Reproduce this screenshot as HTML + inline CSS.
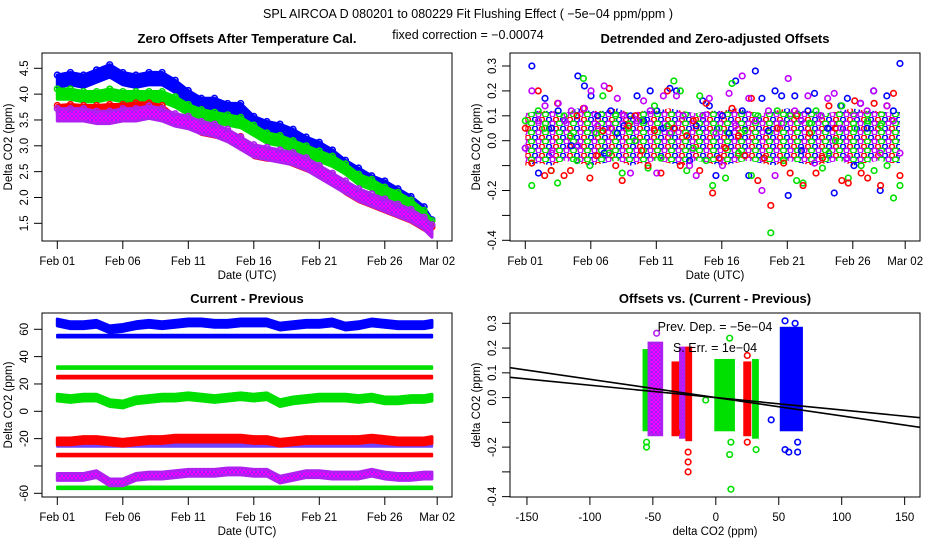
<!DOCTYPE html>
<html><head><meta charset="utf-8"><style>
body{margin:0;background:#fff}
svg{display:block;font-family:"Liberation Sans",sans-serif}
</style></head><body>
<svg id="s" width="936" height="540" viewBox="0 0 936 540">
<defs>
<pattern id="pp" width="4" height="4" patternUnits="userSpaceOnUse"><rect width="4" height="4" fill="#4a30ff"/><circle cx="2" cy="2" r="1.4" fill="none" stroke="#ff00ff" stroke-width="1.3"/></pattern>
<pattern id="mix" width="14" height="9" patternUnits="userSpaceOnUse"><rect width="14" height="9" fill="#fff"/>
<circle cx="3" cy="2.5" r="2.4" fill="none" stroke="#0000ff" stroke-width="1.5"/>
<circle cx="10" cy="2.5" r="2.4" fill="none" stroke="#ff0000" stroke-width="1.5"/>
<circle cx="6.5" cy="6.5" r="2.4" fill="none" stroke="#c000ff" stroke-width="1.5"/>
<circle cx="13" cy="6.5" r="2.4" fill="none" stroke="#00e000" stroke-width="1.5"/>
<circle cx="0" cy="6.5" r="2.4" fill="none" stroke="#00e000" stroke-width="1.5"/>
</pattern>
</defs>
<text x="468" y="18" font-size="12.5" text-anchor="middle">SPL   AIRCOA D   080201 to 080229   Fit Flushing Effect ( −5e−04 ppm/ppm )</text>
<text x="468" y="39" font-size="12.5" text-anchor="middle">fixed correction = −0.00074</text>
</svg>
<script>
// ---- data ----
const days = [0,1,2,3,4,5,6,7,8,9,10,11,12,13,14,15,16,17,18,19,20,21,22,23,24,25,26,27,28,28.6];
const dayTicks = [0,5,10,15,20,25,29];
const dayTickLabels = ["Feb 01","Feb 06","Feb 11","Feb 16","Feb 21","Feb 26","Mar 02"];
// panel 1: zero offsets (center per day) and spread
const p1Blue  = [4.25,4.3,4.25,4.35,4.45,4.3,4.25,4.3,4.3,4.15,3.95,3.8,3.8,3.7,3.7,3.45,3.35,3.3,3.2,3.05,2.95,2.8,2.6,2.45,2.3,2.2,2.05,1.9,1.7,1.45];
const p1Green = [4.0,4.0,3.95,3.95,4.0,3.95,3.95,3.95,3.95,3.85,3.7,3.6,3.55,3.5,3.45,3.3,3.15,3.1,3.0,2.9,2.8,2.7,2.55,2.35,2.25,2.1,2.0,1.85,1.65,1.45];
const p1Red   = [3.7,3.72,3.7,3.7,3.72,3.72,3.75,3.75,3.7,3.5,3.45,3.3,3.25,3.2,3.1,2.85,2.8,2.8,2.7,2.6,2.5,2.35,2.15,2.0,1.9,1.8,1.7,1.6,1.45,1.35];
const p1Purple= [3.6,3.6,3.6,3.55,3.55,3.6,3.6,3.65,3.6,3.5,3.45,3.35,3.3,3.2,3.05,2.9,2.85,2.8,2.75,2.65,2.5,2.35,2.2,2.05,1.95,1.85,1.75,1.65,1.5,1.35];
const p1Spread = [0.12,0.1,0.08,0.12];
const p1YTicks = [1.5,2.0,2.5,3.0,3.5,4.0,4.5];
// panel 2: detrended offsets
const p2Blue  = [-0.03,0.3,-0.13,0.17,0.05,0.12,0.08,-0.02,0.26,0.22,0.18,0.1,-0.05,0.12,0.03,0.06,0.1,0.18,0.08,0.2,0.12,0.05,0.21,0.2,0.1,-0.08,0.06,0.16,0.14,-0.14,0.1,0.03,0.24,0.12,-0.14,0.28,0.17,0.04,0.2,0.18,-0.22,0.18,-0.04,0.12,0.19,0.1,0.05,-0.21,0.14,0.17,-0.1,0.15,0.05,0.2,-0.2,0.18,0.12,0.31];
const p2Green = [0.08,-0.18,0.12,0.05,-0.12,-0.17,0.1,0.02,-0.08,0.25,-0.1,0.03,0.18,-0.05,0.1,-0.13,0.05,0.0,0.08,-0.11,0.14,-0.07,0.06,0.24,0.2,-0.12,-0.03,0.18,-0.08,-0.18,0.05,-0.15,0.23,-0.05,0.04,-0.14,0.1,-0.07,-0.37,0.12,-0.08,0.1,-0.16,-0.17,0.07,0.12,-0.11,-0.05,0.0,0.14,-0.15,0.05,-0.1,0.08,-0.12,0.06,-0.1,-0.23,-0.18];
const p2Red   = [0.05,-0.09,0.2,-0.14,-0.12,0.15,-0.14,-0.12,0.1,0.13,-0.15,-0.06,0.04,0.21,-0.1,-0.16,0.06,0.1,-0.04,-0.1,0.04,-0.13,0.2,0.05,-0.1,0.02,0.08,-0.12,0.15,-0.21,-0.07,-0.03,0.13,0.02,-0.06,0.17,-0.16,-0.07,-0.26,0.05,-0.09,-0.13,0.1,-0.18,0.03,-0.13,-0.07,0.14,0.05,-0.16,-0.17,0.16,-0.13,-0.15,0.15,-0.18,0.14,0.19,-0.14];
const p2Purple= [-0.03,0.2,0.08,0.14,-0.05,0.15,0.08,0.12,-0.02,0.13,0.2,0.06,0.22,0.05,0.17,0.1,-0.13,0.08,0.16,0.12,-0.13,0.18,0.03,0.18,0.1,-0.1,-0.14,0.1,0.17,0.03,-0.1,0.19,0.06,0.26,0.17,0.08,-0.2,0.12,-0.14,0.07,0.25,0.12,0.08,0.18,-0.09,0.1,0.17,0.19,0.05,-0.07,0.1,0.15,0.12,0.2,-0.05,0.14,0.08,-0.05];
const p2CoreLo = [-0.1,-0.09,-0.1,-0.08,-0.09,-0.1,-0.09,-0.08,-0.1,-0.09,-0.08,-0.09,-0.1,-0.08,-0.09,-0.1,-0.09,-0.08,-0.09,-0.1,-0.08,-0.09,-0.1,-0.09,-0.08,-0.1,-0.09,-0.08,-0.09,-0.09];
const p2CoreHi = [0.11,0.12,0.12,0.11,0.13,0.12,0.12,0.13,0.11,0.12,0.12,0.13,0.12,0.11,0.12,0.12,0.13,0.12,0.11,0.12,0.13,0.12,0.12,0.11,0.12,0.13,0.12,0.12,0.11,0.12];
const p2YTicks = [-0.4,-0.3,-0.2,-0.1,0.0,0.1,0.2,0.3];
const p2YLabels = ["-0.4","","-0.2","","0.0","0.1","0.2","0.3"];
// panel 3: current - previous
const p3BlueNoisy  = [65,63,63,64,60,61,63,64,63,64,65,65,64,64,65,65,65,62,63,64,64,65,62,63,65,64,63,63,63,64];
const p3GreenNoisy = [10,9,10,10,6,5,8,9,10,10,11,10,9,10,11,10,11,6,8,9,10,10,10,9,10,8,8,9,9,10];
const p3RedNoisy   = [-22,-22,-21,-21,-22,-23,-22,-21,-21,-20,-20,-20,-20,-20,-20,-21,-21,-23,-22,-21,-21,-21,-21,-21,-20,-21,-22,-22,-22,-21];
const p3PurpleNoisy= [-48,-48,-48,-46,-52,-52,-48,-47,-47,-46,-45,-45,-45,-44,-44,-45,-45,-50,-48,-46,-46,-47,-47,-47,-45,-47,-48,-48,-47,-47];
const p3ConstValues = [55,32,25,-25,-32,-56];
const p3ConstColors = ["#0000ff","#00e000","#ff0000","#7040ff","#ff0000","#00e000"];
const p3YTicks = [-60,-40,-20,0,20,40,60];
const p3YLabels = ["-60","","-20","0","20","40","60"];
// panel 4: offsets vs (current - previous) clusters
const p4XMin = [-57,-53,-34,-28,-23,0,23,30,52];
const p4XMax = [-54,-43,-29,-25,-20,14,27,33,68];
const p4YLo  = [-0.13,-0.15,-0.15,-0.16,-0.17,-0.13,-0.15,-0.16,-0.13];
const p4YHi  = [0.19,0.22,0.14,0.2,0.2,0.15,0.14,0.15,0.28];
const p4Colors = ["#00e000","purple","#ff0000","purple","#ff0000","#00e000","#ff0000","#00e000","#0000ff"];
const p4OutX = [-55,-55,-47,-31,-22,-22,-22,-8,11,11,12,12,25,25,32,44,55,55,58,63,65,65,64];
const p4OutY = [-0.18,-0.2,0.26,-0.14,-0.22,-0.26,-0.3,-0.01,0.24,-0.23,-0.37,-0.18,0.17,-0.18,-0.21,-0.09,0.31,-0.21,-0.22,0.3,-0.22,-0.18,0.25];
const p4OutC = ["#00e000","#00e000","purple","#ff0000","#ff0000","#ff0000","#ff0000","#00e000","#00e000","#00e000","#00e000","#00e000","#ff0000","#ff0000","#00e000","#0000ff","#0000ff","#0000ff","#0000ff","#0000ff","#0000ff","#0000ff","#0000ff"];
const p4Slopes = [-0.00074,-0.0005];
const p4XTicks = [-150,-100,-50,0,50,100,150];
const p4YTicks = p2YTicks, p4YLabels = p2YLabels;

// ---- drawing ----
const svg = document.getElementById('s');
const NS = 'http://www.w3.org/2000/svg';
function mk(tag, attrs, parent){const e=document.createElementNS(NS,tag);for(const k in attrs)e.setAttribute(k,attrs[k]);(parent||svg).appendChild(e);return e;}
function col(c){return c==='purple'?'url(#pp)':c==='mix'?'url(#mix)':c;}
function strokeCol(c){return c==='purple'?'#b020f0':c==='mix'?'none':c;}

function panel(name, L, T, R, B, xs, ys, xticks, xlabels, yticks, ylabels, title, xtitle, ytitle){
  const g = mk('g',{});
  
  
  const t = mk('text',{x:(L+R)/2,y:T-10,'font-size':13,'font-weight':'bold','text-anchor':'middle'},g);
  t.textContent = title;
  
  
  const xa = mk('g',{},g);
  
  
  mk('line',{x1:xs(xticks[0]),x2:xs(xticks[xticks.length-1]),y1:B,y2:B,stroke:'#000'},xa);
  xticks.forEach((v,i)=>{
    mk('line',{x1:xs(v),x2:xs(v),y1:B,y2:B+8,stroke:'#000'},xa);
    const tl = mk('text',{x:xs(v),y:B+24,'font-size':11.5,'text-anchor':'middle'},xa);
    tl.textContent = xlabels[i];
    
    
  });
  const xt = mk('text',{x:(L+R)/2,y:B+38,'font-size':11.5,'text-anchor':'middle'},g);
  xt.textContent = xtitle;
  
  
  const ya = mk('g',{},g);
  
  
  mk('line',{x1:L,x2:L,y1:ys(yticks[0]),y2:ys(yticks[yticks.length-1]),stroke:'#000'},ya);
  yticks.forEach((v,i)=>{
    mk('line',{x1:L-8,x2:L,y1:ys(v),y2:ys(v),stroke:'#000'},ya);
    if(ylabels[i]){
      const tl = mk('text',{x:0,y:0,'font-size':11.5,'text-anchor':'middle',transform:`translate(${L-14},${ys(v)}) rotate(-90)`},ya);
      tl.textContent = ylabels[i];
      
      
    }
  });
  const yt = mk('text',{x:0,y:0,'font-size':11.5,'text-anchor':'middle',transform:`translate(${L-30},${(T+B)/2}) rotate(-90)`},g);
  yt.textContent = ytitle;
  
  
  const cp = 'cp'+name;
  const c = mk('clipPath',{id:cp},g); mk('rect',{x:L,y:T,width:R-L,height:B-T},c);
  const plot = mk('g',{'clip-path':`url(#${cp})`},g);
  
  
  const box = mk('rect',{x:L,y:T,width:R-L,height:B-T,fill:'none',stroke:'#000'},g);
  
  
  return plot;
}
function band(parent, xs, ys, xv, lo, hi, color, name, sw){
  let pts = xv.map((x,i)=>xs(x)+','+ys(hi[i]));
  for(let i=xv.length-1;i>=0;i--) pts.push(xs(xv[i])+','+ys(lo[i]));
  const p = mk('polygon',{points:pts.join(' '),fill:col(color),stroke:strokeCol(color),'stroke-width':sw==null?3:sw,'stroke-linejoin':'round'},parent);
  
  
}
function pts(parent, xs, ys, xv, yv, color, name){
  xv.forEach((x,i)=>{
    const c = mk('circle',{cx:xs(x),cy:ys(yv[i]),r:2.8,fill:'none',stroke:strokeCol(color),'stroke-width':1.6},parent);
    
    
  });
}
const dayX = off => d => off + 57.3 + d*13.1;

// panel 1
{
  const xs = dayX(0), ys = v => 68.3 + (4.5-v)*51.67;
  const p = panel('zero-offsets-panel',42,53,452,241,xs,ys,dayTicks,dayTickLabels,p1YTicks,p1YTicks.map(v=>v.toFixed(1)),'Zero Offsets After Temperature Cal.','Date (UTC)','Delta CO2 (ppm)');
  [[p1Blue,'#0000ff','blue'],[p1Green,'#00e000','green'],[p1Red,'#ff0000','red'],[p1Purple,'purple','purple']].forEach(([a,c,n],k)=>{
    band(p,xs,ys,days,a.map(v=>v-p1Spread[k]),a.map(v=>v+p1Spread[k]),c,'offset-band-'+n);
    pts(p,xs,ys,days,a.map(v=>v+p1Spread[k]),c,'offset-point-'+n);
  });
}
// panel 2
{
  const xs = dayX(468), ys = v => 140.7 - v*249;
  const p = panel('detrended-panel',510,53,920,241,xs,ys,dayTicks,dayTickLabels,p2YTicks,p2YLabels,'Detrended and Zero-adjusted Offsets','Date (UTC)','Delta CO2 (ppm)');
  band(p,xs,ys,days,p2CoreLo,p2CoreHi,'mix','core-band',0);
  [[p2Blue,'#0000ff','blue'],[p2Green,'#00e000','green'],[p2Red,'#ff0000','red'],[p2Purple,'#c000ff','purple']].forEach(([a,c,n])=>{
    const xv = a.map((_,i)=>i*28.6/(a.length-1));
    pts(p,xs,ys,xv,a,c,'detrended-point-'+n);
  });
}
// panel 3
{
  const xs = dayX(0), ys = v => 411.3 - v*1.3667;
  const p = panel('current-minus-previous-panel',42,313,452,497,xs,ys,dayTicks,dayTickLabels,p3YTicks,p3YLabels,'Current - Previous','Date (UTC)','Delta CO2 (ppm)');
  p3ConstValues.forEach((v,k)=>{
    const a = days.map(()=>v);
    band(p,xs,ys,days,a.map(x=>x-0.8),a.map(x=>x+0.8),p3ConstColors[k],'constant-band',2.5);
  });
  [[p3BlueNoisy,'#0000ff','blue'],[p3GreenNoisy,'#00e000','green'],[p3RedNoisy,'#ff0000','red'],[p3PurpleNoisy,'purple','purple']].forEach(([a,c,n])=>{
    band(p,xs,ys,days,a.map(v=>v-2.5),a.map(v=>v+2.5),c,'diff-band-'+n);
  });
}
// panel 4
{
  const xs = v => 715.8 + v*1.259, ys = v => 397.6 - v*247.6;
  const p = panel('offsets-vs-diff-panel',510,313,920,497,xs,ys,p4XTicks,p4XTicks.map(String),p4YTicks,p4YLabels,'Offsets vs. (Current - Previous)','delta CO2 (ppm)','delta CO2 (ppm)');
  p4XMin.forEach((x0,i)=>{
    const r = mk('rect',{x:xs(x0),y:ys(p4YHi[i]),width:xs(p4XMax[i])-xs(x0),height:ys(p4YLo[i])-ys(p4YHi[i]),fill:col(p4Colors[i]),stroke:strokeCol(p4Colors[i]),'stroke-width':3},p);
    
    
  });
  p4OutX.forEach((x,i)=>{
    const c = mk('circle',{cx:xs(x),cy:ys(p4OutY[i]),r:2.8,fill:'none',stroke:strokeCol(p4OutC[i]),'stroke-width':1.6},p);
    
    
  });
  p4Slopes.forEach(s=>{
    const l = mk('line',{x1:xs(-170),y1:ys(-170*s),x2:xs(170),y2:ys(170*s),stroke:'#000','stroke-width':1.6},p);
    
    
  });
  const t1 = mk('text',{x:715,y:331,'font-size':12.5,'text-anchor':'middle'},p);
  t1.textContent = 'Prev. Dep. =  −5e−04';
  
  
  const t2 = mk('text',{x:715,y:352,'font-size':12.5,'text-anchor':'middle'},p);
  t2.textContent = 'S. Err. =  1e−04';
  
  
}
</script>
</body></html>
